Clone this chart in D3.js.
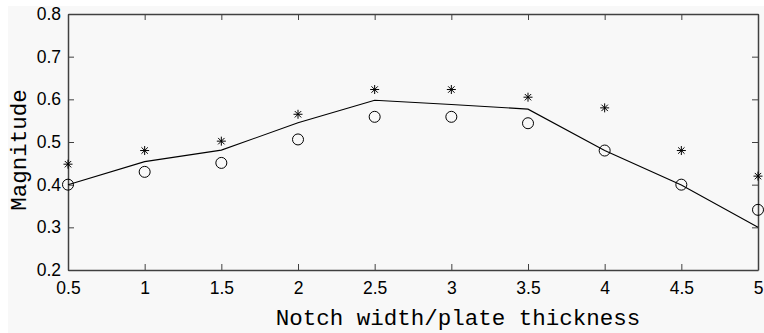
<!DOCTYPE html>
<html>
<head>
<meta charset="utf-8">
<script src="https://cdn.jsdelivr.net/npm/d3@7"></script>
<style>
  body { margin: 0; background: #ffffff; }
  svg { display: block; }
</style>
</head>
<body>
<svg width="764" height="333"></svg>
<script>
// notch width / plate thickness ratios
var ratios = [0.5, 1, 1.5, 2, 2.5, 3, 3.5, 4, 4.5, 5];
// solid line (model)
var lineVals = [0.40, 0.454, 0.481, 0.545, 0.598, 0.588, 0.577, 0.48, 0.399, 0.30];
// asterisk markers
var starVals = [0.448, 0.48, 0.502, 0.565, 0.623, 0.623, 0.605, 0.58, 0.48, 0.42];
// open circle markers
var circleVals = [0.40, 0.43, 0.451, 0.506, 0.559, 0.559, 0.544, 0.48, 0.40, 0.341];

var xTicks = [0.5, 1, 1.5, 2, 2.5, 3, 3.5, 4, 4.5, 5];
var yTicks = [0.2, 0.3, 0.4, 0.5, 0.6, 0.7, 0.8];

var svg = d3.select("svg");

// light grey figure background
svg.append("rect")
    .attr("x", 8).attr("y", 6)
    .attr("width", 756).attr("height", 327)
    .attr("fill", "#f8f8f8");

var x = d3.scaleLinear().domain([0.5, 5]).range([68, 758]);
var y = d3.scaleLinear().domain([0.2, 0.8]).range([270, 14]);

var axisColor = "#404040";

// bottom axis with labels
var gx = svg.append("g")
    .attr("transform", "translate(0,270)")
    .call(d3.axisBottom(x).tickValues(xTicks).tickSize(-6).tickSizeOuter(0).tickPadding(12)
        .tickFormat(d3.format("")));
// top axis, ticks only
var gxt = svg.append("g")
    .attr("transform", "translate(0,14)")
    .call(d3.axisTop(x).tickValues(xTicks).tickSize(-6).tickSizeOuter(0).tickFormat(""));
// left axis with labels
var gy = svg.append("g")
    .attr("transform", "translate(68,0)")
    .call(d3.axisLeft(y).tickValues(yTicks).tickSize(-6).tickSizeOuter(0).tickPadding(7)
        .tickFormat(d3.format(".1f")));
// right axis, ticks only
var gyr = svg.append("g")
    .attr("transform", "translate(758,0)")
    .call(d3.axisRight(y).tickValues(yTicks).tickSize(-6).tickSizeOuter(0).tickFormat(""));

[gx, gxt, gy, gyr].forEach(function(g) {
    g.select(".domain").attr("stroke", axisColor).attr("stroke-width", 1.5);
    g.selectAll(".tick line").attr("stroke", axisColor).attr("stroke-width", 1);
    g.selectAll(".tick text")
        .attr("fill", "#000")
        .style("font-family", "'Liberation Sans', Arial, sans-serif")
        .style("font-size", "17.5px");
});

// model line
var line = d3.line()
    .x(function(d, i) { return x(ratios[i]); })
    .y(function(d) { return y(d); });

svg.append("path")
    .datum(lineVals)
    .attr("d", line)
    .attr("fill", "none")
    .attr("stroke", "#000")
    .attr("stroke-width", 1.1);

// circles
svg.append("g")
    .selectAll("circle")
    .data(circleVals)
    .enter().append("circle")
    .attr("cx", function(d, i) { return x(ratios[i]); })
    .attr("cy", function(d) { return y(d); })
    .attr("r", 5.5)
    .attr("fill", "none")
    .attr("stroke", "#000")
    .attr("stroke-width", 1);

// asterisks
var s = 4.5, sd = 3.2;
svg.append("g")
    .selectAll("path")
    .data(starVals)
    .enter().append("path")
    .attr("transform", function(d, i) { return "translate(" + x(ratios[i]) + "," + y(d) + ")"; })
    .attr("d", "M0," + (-s) + "V" + s + "M" + (-s) + ",0H" + s +
        "M" + (-sd) + "," + (-sd) + "L" + sd + "," + sd +
        "M" + (-sd) + "," + sd + "L" + sd + "," + (-sd))
    .attr("fill", "none")
    .attr("stroke", "#000")
    .attr("stroke-width", 1);

// axis labels
svg.append("text")
    .attr("x", 458)
    .attr("y", 325)
    .attr("text-anchor", "middle")
    .style("font-family", "'Liberation Mono', 'Courier New', monospace")
    .style("font-size", "22.5px")
    .text("Notch width/plate thickness");

svg.append("text")
    .attr("transform", "translate(26,150) rotate(-90)")
    .attr("text-anchor", "middle")
    .style("font-family", "'Liberation Mono', 'Courier New', monospace")
    .style("font-size", "22.5px")
    .text("Magnitude");
</script>
</body>
</html>
